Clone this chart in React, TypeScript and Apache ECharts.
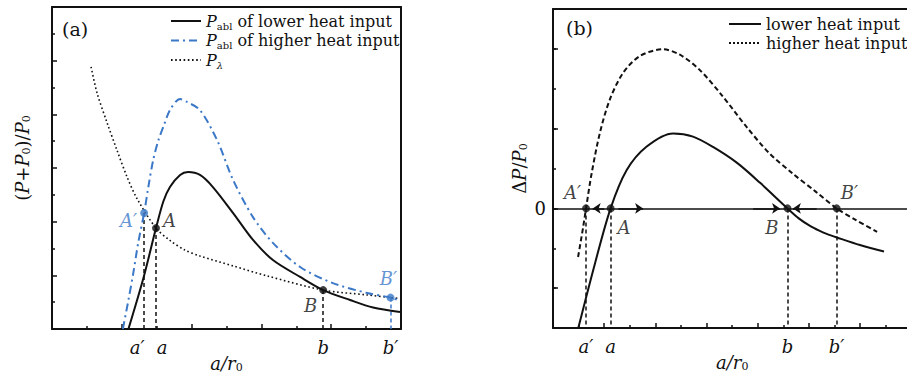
import React, { useEffect, useRef } from "react";
import * as echarts from "echarts";

// ---------- Panel (a) data ----------
const lowerA: [number, number][] = [
  [2.19, 0], [2.62, 1.9], [2.98, 3.76], [3.19, 4.75], [3.38, 5.29], [3.67, 5.74],
  [3.9, 5.85], [4.24, 5.74], [4.61, 5.29], [5.19, 4.32], [5.76, 3.32], [6.33, 2.57],
  [7.11, 1.94], [7.77, 1.45], [8.54, 1.08], [9.2, 0.8], [9.97, 0.63],
];
const higherA: [number, number][] = [
  [2.03, 0], [2.19, 1.08], [2.33, 2.09], [2.47, 3.21], [2.64, 4.32], [2.76, 5.29],
  [2.9, 6.3], [3.05, 7.04], [3.19, 7.53], [3.38, 8.16], [3.67, 8.57], [3.87, 8.46],
  [4.24, 8.16], [4.73, 7.04], [5.19, 5.55], [5.76, 4.17], [6.33, 3.21], [7.11, 2.31],
  [8.05, 1.71], [9.03, 1.34], [9.7, 1.17], [9.97, 1.05],
];
const lambdaA: [number, number][] = [
  [1.12, 9.77], [1.29, 8.8], [1.58, 7.68], [1.86, 6.67], [2.15, 5.67],
  [2.44, 4.85], [2.98, 3.76], [3.38, 3.3], [3.81, 2.94], [4.24, 2.72],
  [5.19, 2.35], [6.16, 1.98], [7.77, 1.45], [9.03, 1.27], [9.7, 1.17], [9.97, 1.14],
];
const ptNamesA = ["A′", "A", "B", "B′"];
const ptXA = [2.64, 2.98, 7.77, 9.7];
const ptYA = [4.32, 3.76, 1.45, 1.17];
const tickNamesA = ["a′", "a", "b", "b′"];

// ---------- Panel (b) data ----------
const lowerB: [number, number][] = [
  [0.98, -3.02], [1.64, -1.38], [2.25, 0], [2.88, 0.96], [3.66, 1.55], [4.69, 1.88],
  [5.47, 1.8], [6.25, 1.54], [7.19, 1.14], [8.09, 0.64], [9.16, 0], [9.6, -0.25],
  [10.04, -0.44], [10.4, -0.56], [10.69, -0.64], [11.09, -0.73], [11.99, -0.92],
  [12.93, -1.08],
];
const higherB: [number, number][] = [
  [0.98, -1.22], [1.18, -0.46], [1.29, 0], [1.51, 0.88], [1.83, 1.89],
  [2.22, 2.73], [2.74, 3.4], [3.39, 3.82], [4.29, 3.99], [4.94, 3.86],
  [5.72, 3.48], [6.63, 2.81], [7.54, 2.06], [8.44, 1.39], [9.35, 0.88],
  [10.26, 0.42], [11.08, 0], [11.82, -0.29], [12.66, -0.59],
];
const ptNamesB = ["A′", "A", "B", "B′"];
const ptXB = [1.29, 2.25, 9.16, 11.08];
const tickNamesB = ["a′", "a", "b", "b′"];
const arrowFromB = [2.0, 2.55, 7.82, 10.3];
const arrowToB = [1.55, 3.52, 8.87, 9.37];

// ---------- styling ----------
const SERIF = "DejaVu Serif";
const INK = "#111111";
const BLUE = "#3b78c8";

const rich = (fs: number) => ({
  n: { fontFamily: SERIF, fontSize: fs, color: INK, lineHeight: 20 },
  i: { fontFamily: SERIF, fontStyle: "italic", fontSize: fs, color: INK, lineHeight: 20 },
  s: { fontFamily: SERIF, fontSize: Math.round(fs * 0.6), color: INK, lineHeight: 9, verticalAlign: "bottom" },
  si: { fontFamily: SERIF, fontStyle: "italic", fontSize: Math.round(fs * 0.6), color: INK, lineHeight: 9, verticalAlign: "bottom" },
});

const tickRich = {
  c: { fontFamily: SERIF, fontStyle: "italic", fontSize: 18, color: INK },
  l: { fontFamily: SERIF, fontStyle: "italic", fontSize: 18, color: INK, padding: [0, 14, 0, 0] },
  r: { fontFamily: SERIF, fontStyle: "italic", fontSize: 18, color: INK, padding: [0, 0, 0, 12] },
};
const tickShiftA = ["l", "r", "c", "c"];

const legendText: Record<string, string> = {
  lowA: "{i|P}{s|abl}{n| of lower heat input}",
  highA: "{i|P}{s|abl}{n| of higher heat input}",
  lamA: "{i|P}{si|λ}",
  lowB: "{n|lower heat input}",
  highB: "{n|higher heat input}",
};

const labelPosA = [
  { position: "left", distance: 3, offset: [0, 7] },
  { position: "right", distance: 3, offset: [0, -8] },
  { position: "left", distance: 2, offset: [0, 15] },
  { position: "top", distance: 6, offset: [-2, 0] },
];
const labelPosB = [
  { position: "left", distance: 1, offset: [0, -16] },
  { position: "right", distance: 3, offset: [0, 19] },
  { position: "left", distance: 5, offset: [0, 19] },
  { position: "right", distance: 0, offset: [0, -16] },
];
const colorsA = [BLUE, INK, INK, BLUE];

const tickCommon = {
  axisLine: { show: true, onZero: false, lineStyle: { color: INK, width: 2 } },
  axisTick: { show: true, inside: true, length: 5, lineStyle: { color: INK, width: 1.5 } },
  minorTick: { show: true, splitNumber: 2, length: 3, lineStyle: { color: INK, width: 1.5 } },
  splitLine: { show: false },
  minorSplitLine: { show: false },
};
const boxAxis = {
  axisLine: { show: true, onZero: false, lineStyle: { color: INK, width: 2 } },
  axisTick: { show: false },
  axisLabel: { show: false },
  splitLine: { show: false },
};
const legendCommon = {
  orient: "vertical",
  padding: 0,
  itemHeight: 12,
  selectedMode: false,
  itemStyle: { opacity: 0 },
  formatter: (n: string) => legendText[n],
};
const xNameCommon = {
  name: "{i|a/r}{s|0}",
  nameLocation: "middle",
  nameGap: 24,
  nameMoveOverlap: false,
  nameTextStyle: { rich: rich(18) },
};

function buildOption() {
  const pointsA = ptXA.map((x, i) => ({
    value: [x, ptYA[i]],
    name: ptNamesA[i],
    itemStyle: { color: colorsA[i] },
    label: {
      show: true,
      formatter: "{b}",
      fontFamily: SERIF,
      fontStyle: "italic",
      fontSize: 18,
      color: colorsA[i],
      ...labelPosA[i],
    },
  }));
  const pointsB = ptXB.map((x, i) => ({
    value: [x, 0],
    name: ptNamesB[i],
    label: {
      show: true,
      formatter: "{b}",
      fontFamily: SERIF,
      fontStyle: "italic",
      fontSize: 18,
      color: INK,
      ...labelPosB[i],
    },
  }));

  return {
    animation: false,
    backgroundColor: "#ffffff",
    grid: [
      { left: 52, top: 7, width: 349, height: 322, containLabel: false, outerBoundsMode: "none" },
      { left: 553, top: 9, width: 358.4, height: 319, containLabel: false, outerBoundsMode: "none" },
    ],
    legend: [
      {
        ...legendCommon,
        left: 170,
        top: 13,
        itemWidth: 30,
        itemGap: 1.5,
        data: ["lowA", "highA", "lamA"],
        textStyle: { rich: rich(16) },
      },
      {
        ...legendCommon,
        left: 728,
        top: 16,
        itemWidth: 32,
        itemGap: 3,
        data: [
          { name: "lowB" },
          { name: "highB", lineStyle: { type: [2, 2], width: 2 } },
        ],
        textStyle: { rich: rich(16) },
      },
    ],
    xAxis: [
      {
        type: "value", gridIndex: 0, position: "bottom", min: 0, max: 10, interval: 2,
        ...tickCommon,
        axisLabel: {
          customValues: ptXA,
          hideOverlap: false,
          margin: 9,
          rich: tickRich,
          formatter: (v: number) => {
            const k = ptXA.indexOf(v);
            return k < 0 ? "" : `{${tickShiftA[k]}|${tickNamesA[k]}}`;
          },
        },
        ...xNameCommon,
      },
      { type: "value", gridIndex: 0, position: "top", min: 0, max: 10, ...boxAxis },
      {
        type: "value", gridIndex: 1, position: "bottom", min: 0, max: 14, interval: 2,
        ...tickCommon,
        axisLabel: {
          customValues: ptXB,
          hideOverlap: false,
          margin: 9,
          rich: tickRich,
          formatter: (v: number) => {
            const k = ptXB.indexOf(v);
            return k < 0 ? "" : `{c|${tickNamesB[k]}}`;
          },
        },
        ...xNameCommon,
      },
      { type: "value", gridIndex: 1, position: "top", min: 0, max: 14, ...boxAxis },
    ],
    yAxis: [
      {
        type: "value", gridIndex: 0, position: "left", min: 0, max: 12, interval: 2,
        ...tickCommon,
        axisLabel: { show: false },
        name: "{n|(}{i|P}{n|+}{i|P}{s|0}{n|)/}{i|P}{s|0}",
        nameLocation: "middle",
        nameGap: 20,
        nameTextStyle: { rich: rich(18), padding: [0, 0, 0, 20] },
      },
      { type: "value", gridIndex: 0, position: "right", min: 0, max: 12, ...boxAxis },
      {
        type: "value", gridIndex: 1, position: "left", min: -3, max: 5, interval: 1,
        axisLine: { show: true, onZero: false, lineStyle: { color: INK, width: 2 } },
        axisTick: { show: true, inside: true, length: 3, lineStyle: { color: INK, width: 1.5 } },
        splitLine: { show: false },
        axisLabel: {
          fontFamily: SERIF, fontSize: 18, color: INK, margin: 7,
          customValues: [0],
          formatter: (v: number) => String(v),
        },
        name: "{n|Δ}{i|P}{n|/}{i|P}{s|0}",
        nameLocation: "middle",
        nameGap: 24,
        nameTextStyle: { rich: rich(18) },
      },
      {
        type: "value", gridIndex: 1, position: "left", min: -3, max: 5,
        axisLine: { show: false },
        axisTick: { show: true, inside: true, length: 5, customValues: [-2, 0, 2, 4], lineStyle: { color: INK, width: 1.5 } },
        axisLabel: { show: false },
        splitLine: { show: false },
      },
      { type: "value", gridIndex: 1, position: "right", min: -3, max: 5, ...boxAxis },
    ],
    graphic: [
      { type: "text", left: 62, top: 19, style: { text: "(a)", font: `19px '${SERIF}'`, fill: INK } },
      { type: "text", left: 566, top: 18, style: { text: "(b)", font: `19px '${SERIF}'`, fill: INK } },
    ],
    series: [
      // ----- panel (a) -----
      {
        type: "lines", coordinateSystem: "cartesian2d", xAxisIndex: 0, yAxisIndex: 0,
        z: 1,
        lineStyle: { color: INK, width: 1.5, type: [4, 3], opacity: 1 },
        data: ptXA.map((x, i) => ({
          coords: [[x, ptYA[i]], [x, 0]],
          lineStyle: { color: i === 3 ? BLUE : INK },
        })),
      },
      {
        name: "lowA", type: "line", xAxisIndex: 0, yAxisIndex: 0, data: lowerA,
        smooth: 0.3, symbol: "none", showSymbol: false, z: 3,
        lineStyle: { color: INK, width: 2 }, itemStyle: { color: INK },
      },
      {
        name: "highA", type: "line", xAxisIndex: 0, yAxisIndex: 0, data: higherA,
        smooth: 0.3, symbol: "none", showSymbol: false, z: 3,
        lineStyle: { color: BLUE, width: 2, type: [8, 4, 2, 4] }, itemStyle: { color: BLUE },
      },
      {
        name: "lamA", type: "line", xAxisIndex: 0, yAxisIndex: 0, data: lambdaA,
        smooth: 0.3, symbol: "none", showSymbol: false, z: 2,
        lineStyle: { color: INK, width: 1.6, type: [1.6, 2.6] }, itemStyle: { color: INK },
      },
      {
        type: "scatter", xAxisIndex: 0, yAxisIndex: 0, symbolSize: 8, z: 5,
        data: pointsA,
      },
      // ----- panel (b) -----
      {
        type: "lines", coordinateSystem: "cartesian2d", xAxisIndex: 2, yAxisIndex: 2,
        z: 1,
        lineStyle: { color: INK, width: 1.5, opacity: 1 },
        data: [{ coords: [[0, 0], [14, 0]] }],
      },
      {
        type: "lines", coordinateSystem: "cartesian2d", xAxisIndex: 2, yAxisIndex: 2,
        z: 1,
        lineStyle: { color: INK, width: 1.5, type: [4, 3], opacity: 1 },
        data: ptXB.map((x) => ({ coords: [[x, 0], [x, -3]] })),
      },
      {
        type: "lines", coordinateSystem: "cartesian2d", xAxisIndex: 2, yAxisIndex: 2,
        z: 4,
        symbol: ["none", "arrow"], symbolSize: 8,
        lineStyle: { color: INK, width: 1.5, opacity: 1 },
        data: arrowFromB.map((x, i) => ({ coords: [[x, 0], [arrowToB[i], 0]] })),
      },
      {
        name: "lowB", type: "line", xAxisIndex: 2, yAxisIndex: 2, data: lowerB,
        smooth: 0.3, symbol: "none", showSymbol: false, z: 3,
        lineStyle: { color: INK, width: 2 }, itemStyle: { color: INK },
      },
      {
        name: "highB", type: "line", xAxisIndex: 2, yAxisIndex: 2, data: higherB,
        smooth: 0.3, symbol: "none", showSymbol: false, z: 3,
        lineStyle: { color: INK, width: 2, type: [5, 3] }, itemStyle: { color: INK },
      },
      {
        type: "scatter", xAxisIndex: 2, yAxisIndex: 2, symbolSize: 8, z: 5,
        itemStyle: { color: INK },
        data: pointsB,
      },
    ],
  };
}

export default function App() {
  const ref = useRef<HTMLDivElement | null>(null);
  useEffect(() => {
    if (!ref.current) return;
    const chart = echarts.init(ref.current, undefined, { renderer: "svg" });
    chart.setOption(buildOption() as any);
    return () => chart.dispose();
  }, []);
  return (
    <div
      ref={ref}
      style={{ position: "fixed", left: 0, top: 0, width: 907, height: 375, background: "#fff" }}
    />
  );
}
